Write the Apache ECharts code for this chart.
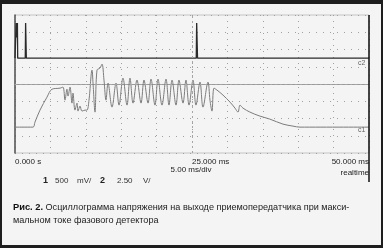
<!DOCTYPE html>
<html><head><meta charset="utf-8">
<script src="https://cdn.jsdelivr.net/npm/echarts@6/dist/echarts.min.js"></script>
<style>
html,body{margin:0;padding:0;background:#1e1e1e;overflow:hidden;}
#bg{position:absolute;left:2px;top:4px;width:379px;height:241px;background:#f4f4f4;}
#c{position:absolute;left:0;top:0;width:383px;height:248px;}
</style></head><body>
<div id="bg"></div><div id="c"></div>
<script>
// Time axis (ms) ticks and labels
const xTicks = [0, 25, 50];
const xTickLabels = ['0.000 s', '25.000 ms', '50.000 ms'];
const timebase = '5.00 ms/div';
const modeLabel = 'realtime';
const channelScales = ['1', '500', 'mV/', '2', '2.50', 'V/'];
const traceNames = ['c1', 'c2'];
// Channel 1: 500 mV/div, ground 2.5 div below centre
const c1Offset = -2.5, c1Scale = 500;
const c1Time = [0,2.54,2.82,3.53,4.52,5.23,6.36,6.78,7.06,7.34,7.49,7.77,8.05,8.19,8.47,8.76,8.90,9.18,9.46,9.89,10.17,10.45,10.88,11.02,11.30,11.58,12.0,12.29,12.57,12.85,13.14,13.70,14.27,14.69,15.25,15.82,16.24,16.67,17.23,17.80,18.22,18.79,19.21,19.77,20.20,20.76,21.33,21.75,22.18,22.74,23.16,23.73,24.15,24.58,25.14,25.56,26.13,26.55,27.26,27.54,27.82,28.11,28.53,29.38,30.37,31.07,31.50,31.78,32.20,33.19,34.60,36.0,37.85,39.27,40.25,50];
const c1mV = [0,0,145,493,870,1100,1130,1160,783,1100,900,1160,696,986,493,696,464,609,464,493,493,783,1653,1276,435,1653,1711,1827,1363,783,1276,580,1276,638,1421,638,1421,696,1363,696,1363,696,1392,638,1392,638,1392,638,1363,638,1363,696,1363,638,1363,638,1305,580,1305,783,464,1131,1073,928,725,551,435,638,551,435,319,232,87,29,0,0];
// Channel 2: 2.50 V/div, ground 1.5 div above centre
const c2Offset = 1.5, c2Scale = 2.5;
const c2Time = [0,0.12,0.16,0.22,0.26,0.34,0.38,1.45,1.5,1.56,1.6,25.6,25.66,25.72,25.78,50];
const c2V = [0,0,5.1,5.1,3.0,5.1,0,0,5.1,5.1,0,0,5.1,5.1,0,0];
// Caption
const captionBold = 'Рис. 2.';
const captionLine1 = 'Осциллограмма напряжения на выходе приемопередатчика при макси-';
const captionLine2 = 'мальном токе фазового детектора';

const c1Data = c1Time.map((t, i) => [t, c1Offset + c1mV[i] / c1Scale]);
const c2Data = c2Time.map((t, i) => [t, c2Offset + c2V[i] / c2Scale]);

const F = '"Liberation Sans", Arial, sans-serif';
const chart = echarts.init(document.getElementById('c'), null, {renderer: 'canvas'});
chart.setOption({
  animation: false,
  backgroundColor: 'transparent',
  grid: {left: 15, top: 15, width: 354, height: 138, show: true, borderColor: '#c4c4c4', borderWidth: 1, backgroundColor: 'transparent'},
  xAxis: {
    type: 'value', min: 0, max: 50, interval: 5,
    axisLine: {show: true, lineStyle: {color: '#9a9a9a', width: 1}},
    axisTick: {show: false},
    splitLine: {show: true, lineStyle: {color: '#a0a0a0', type: [1, 5], width: 1}},
    axisLabel: {
      show: true, margin: 5, fontSize: 8, fontFamily: F, color: '#222', align: 'left',
      alignMinLabel: 'left', alignMaxLabel: 'right',
      formatter: v => { const i = xTicks.indexOf(v); return i >= 0 ? xTickLabels[i] : ''; }
    }
  },
  yAxis: {
    type: 'value', min: -4, max: 4, interval: 1,
    axisLine: {show: true, lineStyle: {color: '#555', width: 1.5}},
    axisTick: {show: false}, axisLabel: {show: false},
    splitLine: {show: true, lineStyle: {color: '#a0a0a0', type: [1, 6], width: 1}}
  },
  series: [
    {
      name: traceNames[0], type: 'line', data: c1Data, showSymbol: false, symbol: 'none',
      smooth: 0.35,
      lineStyle: {color: '#7c7c7c', width: 1}, z: 3,
      markLine: {
        silent: true, symbol: 'none', label: {show: false},
        lineStyle: {color: '#a6a6a6', type: [2, 3], width: 1},
        data: [{xAxis: 25}, {yAxis: 0}]
      }
    },
    {
      name: traceNames[1], type: 'line', data: c2Data, showSymbol: false, symbol: 'none',
      lineStyle: {color: '#2a2a2a', width: 1.3}, z: 4
    }
  ],
  graphic: [
    {type: 'line', shape: {x1: 369, y1: 15, x2: 369, y2: 182}, style: {stroke: '#111', lineWidth: 1.5}, z: 100},
    {type: 'text', left: 358, top: 60, style: {text: traceNames[1], font: '7px ' + F, fill: '#666'}},
    {type: 'text', left: 358, top: 127, style: {text: traceNames[0], font: '7px ' + F, fill: '#666'}},
    {type: 'text', x: 191, y: 170, style: {text: timebase, font: '8px ' + F, fill: '#222', textAlign: 'center', textVerticalAlign: 'middle'}},
    {type: 'text', x: 369, y: 173, style: {text: modeLabel, font: '8px ' + F, fill: '#222', textAlign: 'right', textVerticalAlign: 'middle'}, z: 50},
    {type: 'text', x: 43, y: 181, style: {text: channelScales[0], font: 'bold 9px ' + F, fill: '#222', textVerticalAlign: 'middle'}},
    {type: 'text', x: 55, y: 181, style: {text: channelScales[1], font: '8px ' + F, fill: '#333', textVerticalAlign: 'middle'}},
    {type: 'text', x: 77, y: 181, style: {text: channelScales[2], font: '8px ' + F, fill: '#333', textVerticalAlign: 'middle'}},
    {type: 'text', x: 100, y: 181, style: {text: channelScales[3], font: 'bold 9px ' + F, fill: '#222', textVerticalAlign: 'middle'}},
    {type: 'text', x: 117, y: 181, style: {text: channelScales[4], font: '8px ' + F, fill: '#333', textVerticalAlign: 'middle'}},
    {type: 'text', x: 143, y: 181, style: {text: channelScales[5], font: '8px ' + F, fill: '#333', textVerticalAlign: 'middle'}},
    {type: 'text', x: 13, y: 207, style: {
      text: '{b|' + captionBold + '} ' + captionLine1, font: '9.1px ' + F, fill: '#222', textVerticalAlign: 'middle',
      rich: {b: {fontWeight: 'bold', fontSize: 9.3, fontFamily: F, fill: '#111'}}
    }},
    {type: 'text', x: 13, y: 220, style: {text: captionLine2, font: '9.1px ' + F, fill: '#222', textVerticalAlign: 'middle'}}
  ]
});
</script>
</body></html>
